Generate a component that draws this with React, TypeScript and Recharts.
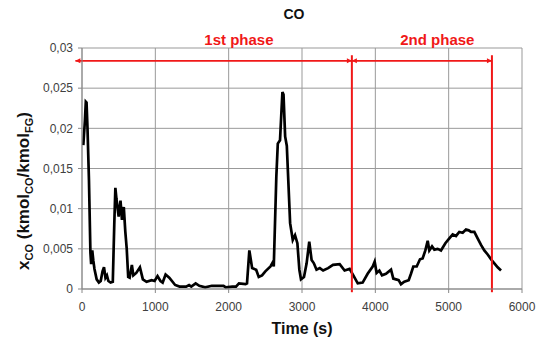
import React from 'react';
import { LineChart, Line, XAxis, YAxis, CartesianGrid, ReferenceLine, ReferenceDot } from 'recharts';

const timeS = [
  18, 40, 52, 62, 75, 95, 115, 125, 140, 155, 170, 200, 230, 255, 280, 300, 320, 340, 360, 390,
  420, 440, 455, 470, 500, 525, 545, 570, 590, 610, 630, 650, 680, 700, 740, 790, 830, 880, 950, 990,
  1030, 1070, 1100, 1140, 1190, 1270, 1330, 1420, 1460, 1490, 1550, 1600, 1680, 1770, 1860, 1930, 1960, 2050, 2100, 2140,
  2230, 2250, 2282, 2320, 2375, 2410, 2455, 2500, 2570, 2600, 2615, 2650, 2670, 2700, 2733, 2748, 2770, 2793, 2838, 2874,
  2905, 2937, 2964, 2986, 3027, 3063, 3099, 3131, 3162, 3198, 3243, 3288, 3356, 3423, 3514, 3581, 3649, 3700, 3760, 3827,
  3895, 3964, 3991, 4018, 4055, 4091, 4145, 4214, 4245, 4282, 4318, 4350, 4395, 4455, 4486, 4518, 4564, 4609, 4645, 4682,
  4714, 4736, 4773, 4805, 4850, 4895, 4955, 5009, 5055, 5100, 5145, 5191, 5236, 5273, 5305, 5350, 5395, 5441, 5486, 5532,
  5577, 5623, 5668, 5714,
];

const xCO = [
  0.0179, 0.021, 0.0233, 0.0232, 0.02, 0.0135, 0.0045, 0.0031, 0.0048, 0.0035, 0.0025, 0.0012, 0.0008, 0.001, 0.0022, 0.0027, 0.0014, 0.0017, 0.001, 0.0008,
  0.0009, 0.008, 0.0126, 0.0112, 0.009, 0.011, 0.0086, 0.0102, 0.0072, 0.005, 0.0015, 0.0014, 0.003, 0.0017, 0.002, 0.0027, 0.0012, 0.0009, 0.0011, 0.001,
  0.0016, 0.001, 0.0008, 0.0018, 0.0014, 0.0005, 0.0003, 0.0003, 0.0005, 0.0003, 0.0007, 0.0004, 0.0002, 0.0004, 0.0004, 0.0004, 0.0002, 0.0003, 0.0003, 0.0007,
  0.0006, 0.0007, 0.0048, 0.0026, 0.0024, 0.0015, 0.0017, 0.0022, 0.0028, 0.0033, 0.0028, 0.014, 0.0181, 0.0185, 0.0245, 0.0242, 0.019, 0.0178, 0.0082, 0.0061,
  0.0067, 0.0057, 0.0024, 0.0012, 0.0015, 0.0032, 0.0059, 0.0036, 0.0032, 0.0024, 0.0026, 0.0023, 0.0026, 0.003, 0.0031, 0.0023, 0.0025, 0.0017, 0.0007, 0.0008,
  0.0019, 0.0028, 0.0034, 0.002, 0.0023, 0.0017, 0.0019, 0.0024, 0.0013, 0.0012, 0.0011, 0.0006, 0.0009, 0.0011, 0.0019, 0.0028, 0.0028, 0.0037, 0.0038, 0.0048,
  0.006, 0.0048, 0.0053, 0.0049, 0.005, 0.0048, 0.0057, 0.0063, 0.0068, 0.0066, 0.0071, 0.007, 0.0074, 0.0073, 0.0071, 0.0071, 0.0063, 0.0055, 0.0048, 0.0043,
  0.0037, 0.0032, 0.0027, 0.0023,
];

const xTicks = [0, 1000, 2000, 3000, 4000, 5000, 6000];
const yTicks = [0, 0.005, 0.01, 0.015, 0.02, 0.025, 0.03];

const phaseBounds = [-90, 3680, 5590];
const arrowLevel = 0.0284;
const dividerTop = 0.0291;
const dividerBottom = -0.0004;
const phaseLabels = ['1st phase', '2nd phase'];
const phaseLabelX = [2140, 4846];

const data = timeS.map((t, i) => ({ t, co: xCO[i] }));

const RED = '#f01818';
const FONT = '"Liberation Sans", Arial, sans-serif';

const ArrowLine = (props: any) => {
  const { x1, y1, x2, y2 } = props;
  const h = 5;
  const w = 2.5;
  return (
    <g>
      <line x1={x1} y1={y1} x2={x2} y2={y2} stroke={RED} strokeWidth={1.6} />
      <polygon points={`${x1},${y1} ${x1 + h},${y1 - w} ${x1 + h},${y1 + w}`} fill={RED} />
      <polygon points={`${x2},${y2} ${x2 - h},${y2 - w} ${x2 - h},${y2 + w}`} fill={RED} />
    </g>
  );
};

const fmt = (v: number) => String(v).replace('.', ',');

export default function App() {
  return (
    <div style={{ position: 'absolute', left: 0, top: 0, width: 542, height: 345, background: '#fff', fontFamily: FONT }}>
      <LineChart
        width={542}
        height={345}
        data={data}
        margin={{ top: 48, right: 20, bottom: 26, left: 32 }}
      >
        <CartesianGrid stroke="#999" strokeWidth={1} />
        <XAxis
          dataKey="t"
          type="number"
          domain={[0, 6000]}
          ticks={xTicks}
          height={30}
          tickSize={4}
          tickMargin={9}
          axisLine={{ stroke: '#888' }}
          tickLine={{ stroke: '#888' }}
          tick={{ fontSize: 12, fill: '#404040', fontFamily: FONT }}
        />
        <YAxis
          type="number"
          domain={[0, 0.03]}
          ticks={yTicks}
          width={50}
          tickSize={4}
          tickMargin={5}
          tickFormatter={fmt}
          axisLine={{ stroke: '#888' }}
          tickLine={{ stroke: '#888' }}
          tick={{ fontSize: 12, fill: '#404040', fontFamily: FONT }}
        />
        <Line
          type="linear"
          dataKey="co"
          stroke="#000"
          strokeWidth={2.7}
          dot={false}
          isAnimationActive={false}
        />
        <ReferenceLine
          segment={[{ x: phaseBounds[1], y: dividerBottom }, { x: phaseBounds[1], y: dividerTop }]}
          stroke={RED}
          strokeWidth={2}
          ifOverflow="visible"
        />
        <ReferenceLine
          segment={[{ x: phaseBounds[2], y: dividerBottom }, { x: phaseBounds[2], y: dividerTop }]}
          stroke={RED}
          strokeWidth={2}
          ifOverflow="visible"
        />
        <ReferenceLine
          segment={[{ x: phaseBounds[0], y: arrowLevel }, { x: phaseBounds[1], y: arrowLevel }]}
          ifOverflow="visible"
          shape={ArrowLine}
        />
        <ReferenceLine
          segment={[{ x: phaseBounds[1], y: arrowLevel }, { x: phaseBounds[2], y: arrowLevel }]}
          ifOverflow="visible"
          shape={ArrowLine}
        />
        {phaseLabels.map((lab, i) => (
          <ReferenceDot
            key={lab}
            x={phaseLabelX[i]}
            y={arrowLevel}
            r={0}
            fill="none"
            stroke="none"
            ifOverflow="visible"
            label={{ value: lab, position: 'top', offset: 16, fill: RED, fontSize: 15, fontWeight: 'bold', fontFamily: FONT }}
          />
        ))}
      </LineChart>
      <svg
        width={542}
        height={345}
        style={{ position: 'absolute', left: 0, top: 0, pointerEvents: 'none' }}
      >
        <text x={294} y={19} textAnchor="middle" fontSize={14} fontWeight="bold" fill="#111" fontFamily={FONT}>CO</text>
        <text x={302} y={334} textAnchor="middle" fontSize={16} fontWeight="bold" fill="#111" fontFamily={FONT}>Time (s)</text>
        <text transform="translate(29,191) rotate(-90)" textAnchor="middle" fontSize={17} fontWeight="bold" fill="#111" fontFamily={FONT}>
          x<tspan fontSize={11} dy={4}>CO</tspan>
          <tspan dy={-4}> (kmol</tspan>
          <tspan fontSize={11} dy={4}>CO</tspan>
          <tspan dy={-4}>/kmol</tspan>
          <tspan fontSize={11} dy={4}>FG</tspan>
          <tspan dy={-4}>)</tspan>
        </text>
      </svg>
    </div>
  );
}
